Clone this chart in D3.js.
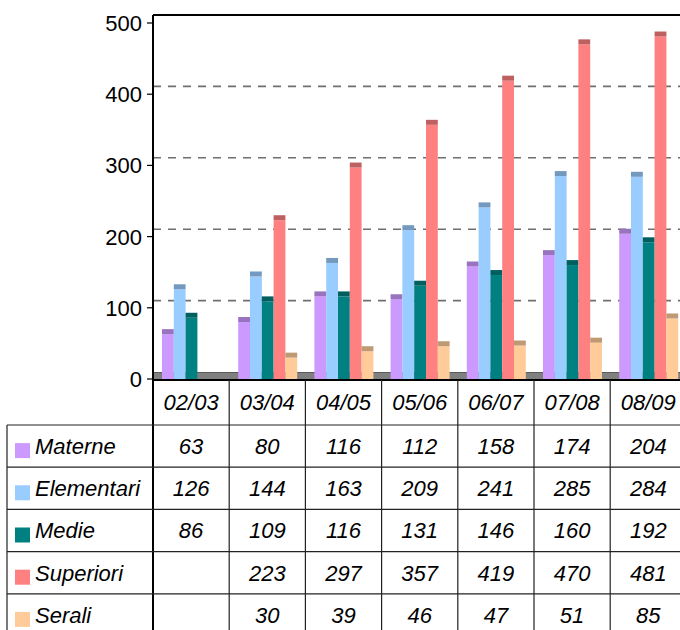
<!DOCTYPE html>
<html>
<head>
<meta charset="utf-8">
<script src="https://cdn.jsdelivr.net/npm/d3@7"></script>
<style>
  body { margin: 0; background: #fff; }
  svg { display: block; font-family: "Liberation Sans", Arial, sans-serif; }
</style>
</head>
<body>
<div class="chart"></div>
<script>
var categories = ["02/03", "03/04", "04/05", "05/06", "06/07", "07/08", "08/09"];
var seriesNames = ["Materne", "Elementari", "Medie", "Superiori", "Serali"];
var materne = [63, 80, 116, 112, 158, 174, 204];
var elementari = [126, 144, 163, 209, 241, 285, 284];
var medie = [86, 109, 116, 131, 146, 160, 192];
var superiori = [null, 223, 297, 357, 419, 470, 481];
var serali = [null, 30, 39, 46, 47, 51, 85];
var yTicks = [0, 100, 200, 300, 400, 500];
var colors = ["#cc99ff", "#99ccff", "#008080", "#ff8080", "#ffcc99"];

var values = [materne, elementari, medie, superiori, serali];

var width = 680,
    height = 630;

var svg = d3.select(".chart").append("svg")
    .attr("width", width)
    .attr("height", height);

var axisX = 153;
var colW = 76.2;

var x = d3.scaleBand()
    .domain(categories)
    .range([axisX, axisX + colW * categories.length]);

var xInner = d3.scaleBand()
    .domain(seriesNames)
    .range([9, 9 + 59]);

// front face scale and back wall scale (pseudo 3D)
var y = d3.scaleLinear().domain([0, 500]).range([379, 23]);
var yBack = d3.scaleLinear().domain([0, 500]).range([372, 15]);

var rows = d3.scaleBand()
    .domain(seriesNames)
    .range([425, 636]);

var font = "22px";

// back wall gridlines
svg.selectAll(".grid")
    .data(yTicks.filter(function(d){ return d > 0 && d < 500; }))
  .enter().append("line")
    .attr("x1", axisX)
    .attr("x2", width)
    .attr("y1", function(d){ return yBack(d); })
    .attr("y2", function(d){ return yBack(d); })
    .style("stroke", "#6f6f6f")
    .style("stroke-width", 1.6)
    .style("stroke-dasharray", "8,7");

// top of back wall
svg.append("line")
    .attr("x1", axisX)
    .attr("x2", width)
    .attr("y1", yBack(500))
    .attr("y2", yBack(500))
    .style("stroke", "#000")
    .style("stroke-width", 2);

// floor
svg.append("rect")
    .attr("x", axisX)
    .attr("y", yBack(0))
    .attr("width", width - axisX)
    .attr("height", y(0) - yBack(0))
    .attr("fill", "#808080");
svg.append("line")
    .attr("x1", axisX)
    .attr("x2", width)
    .attr("y1", yBack(0) + 0.5)
    .attr("y2", yBack(0) + 0.5)
    .style("stroke", "#5a5a5a")
    .style("stroke-width", 1);

// bars
seriesNames.forEach(function(name, si){
  var base = d3.rgb(colors[si]);
  var cap = d3.rgb(base.r * 0.75, base.g * 0.75, base.b * 0.75);
  var data = categories.map(function(c, i){ return {cat: c, v: values[si][i]}; })
      .filter(function(d){ return d.v != null; });

  var g = svg.append("g").attr("class", "series");

  g.selectAll(".bar")
      .data(data)
    .enter().append("rect")
      .attr("class", "bar")
      .attr("x", function(d){ return x(d.cat) + xInner(name); })
      .attr("y", function(d){ return y(d.v); })
      .attr("width", xInner.bandwidth())
      .attr("height", function(d){ return y(0) - y(d.v); })
      .attr("fill", base);

  g.selectAll(".cap")
      .data(data)
    .enter().append("rect")
      .attr("class", "cap")
      .attr("x", function(d){ return x(d.cat) + xInner(name); })
      .attr("y", function(d){ return y(d.v) - 5; })
      .attr("width", xInner.bandwidth())
      .attr("height", 5)
      .attr("fill", cap);
});

// y axis
svg.append("line")
    .attr("x1", axisX)
    .attr("x2", axisX)
    .attr("y1", yBack(500))
    .attr("y2", height)
    .style("stroke", "#000")
    .style("stroke-width", 2);

svg.selectAll(".tick")
    .data(yTicks)
  .enter().append("line")
    .attr("x1", axisX - 6)
    .attr("x2", axisX)
    .attr("y1", function(d){ return y(d); })
    .attr("y2", function(d){ return y(d); })
    .style("stroke", "#000")
    .style("stroke-width", 1.2);

svg.selectAll(".ytext")
    .data(yTicks)
  .enter().append("text")
    .attr("x", axisX - 11)
    .attr("y", function(d){ return y(d); })
    .attr("dy", "0.36em")
    .attr("text-anchor", "end")
    .style("font-size", font)
    .text(function(d){ return d; });

// x axis / table top
svg.append("line")
    .attr("x1", axisX)
    .attr("x2", width)
    .attr("y1", 380)
    .attr("y2", 380)
    .style("stroke", "#000")
    .style("stroke-width", 2);

// data table
var tableLeft = 7;

svg.selectAll(".hline")
    .data(seriesNames)
  .enter().append("line")
    .attr("x1", tableLeft)
    .attr("x2", width)
    .attr("y1", function(d){ return rows(d); })
    .attr("y2", function(d){ return rows(d); })
    .style("stroke", "#222")
    .style("stroke-width", 1.2);

svg.selectAll(".vline")
    .data(categories.slice(1))
  .enter().append("line")
    .attr("x1", function(d){ return x(d); })
    .attr("x2", function(d){ return x(d); })
    .attr("y1", 380)
    .attr("y2", height)
    .style("stroke", "#222")
    .style("stroke-width", 1.2);

svg.append("line")
    .attr("x1", tableLeft)
    .attr("x2", tableLeft)
    .attr("y1", rows(seriesNames[0]))
    .attr("y2", height)
    .style("stroke", "#222")
    .style("stroke-width", 1.2);

svg.selectAll(".cattext")
    .data(categories)
  .enter().append("text")
    .attr("x", function(d){ return x(d) + x.bandwidth() / 2; })
    .attr("y", (380 + rows(seriesNames[0])) / 2)
    .attr("dy", "0.36em")
    .attr("text-anchor", "middle")
    .style("font-size", font)
    .style("font-style", "italic")
    .text(function(d){ return d; });

seriesNames.forEach(function(name, si){
  var cy = rows(name) + rows.bandwidth() / 2;

  svg.append("rect")
      .attr("x", 15)
      .attr("y", cy - 3)
      .attr("width", 15)
      .attr("height", 15)
      .attr("fill", colors[si]);

  svg.append("text")
      .attr("x", 35)
      .attr("y", cy)
      .attr("dy", "0.36em")
      .style("font-size", font)
      .style("font-style", "italic")
      .text(name);

  svg.selectAll(".val" + si)
      .data(categories.map(function(c, i){ return {cat: c, v: values[si][i]}; })
        .filter(function(d){ return d.v != null; }))
    .enter().append("text")
      .attr("x", function(d){ return x(d.cat) + x.bandwidth() / 2; })
      .attr("y", cy)
      .attr("dy", "0.36em")
      .attr("text-anchor", "middle")
      .style("font-size", font)
      .style("font-style", "italic")
      .text(function(d){ return d.v; });
});
</script>
</body>
</html>
